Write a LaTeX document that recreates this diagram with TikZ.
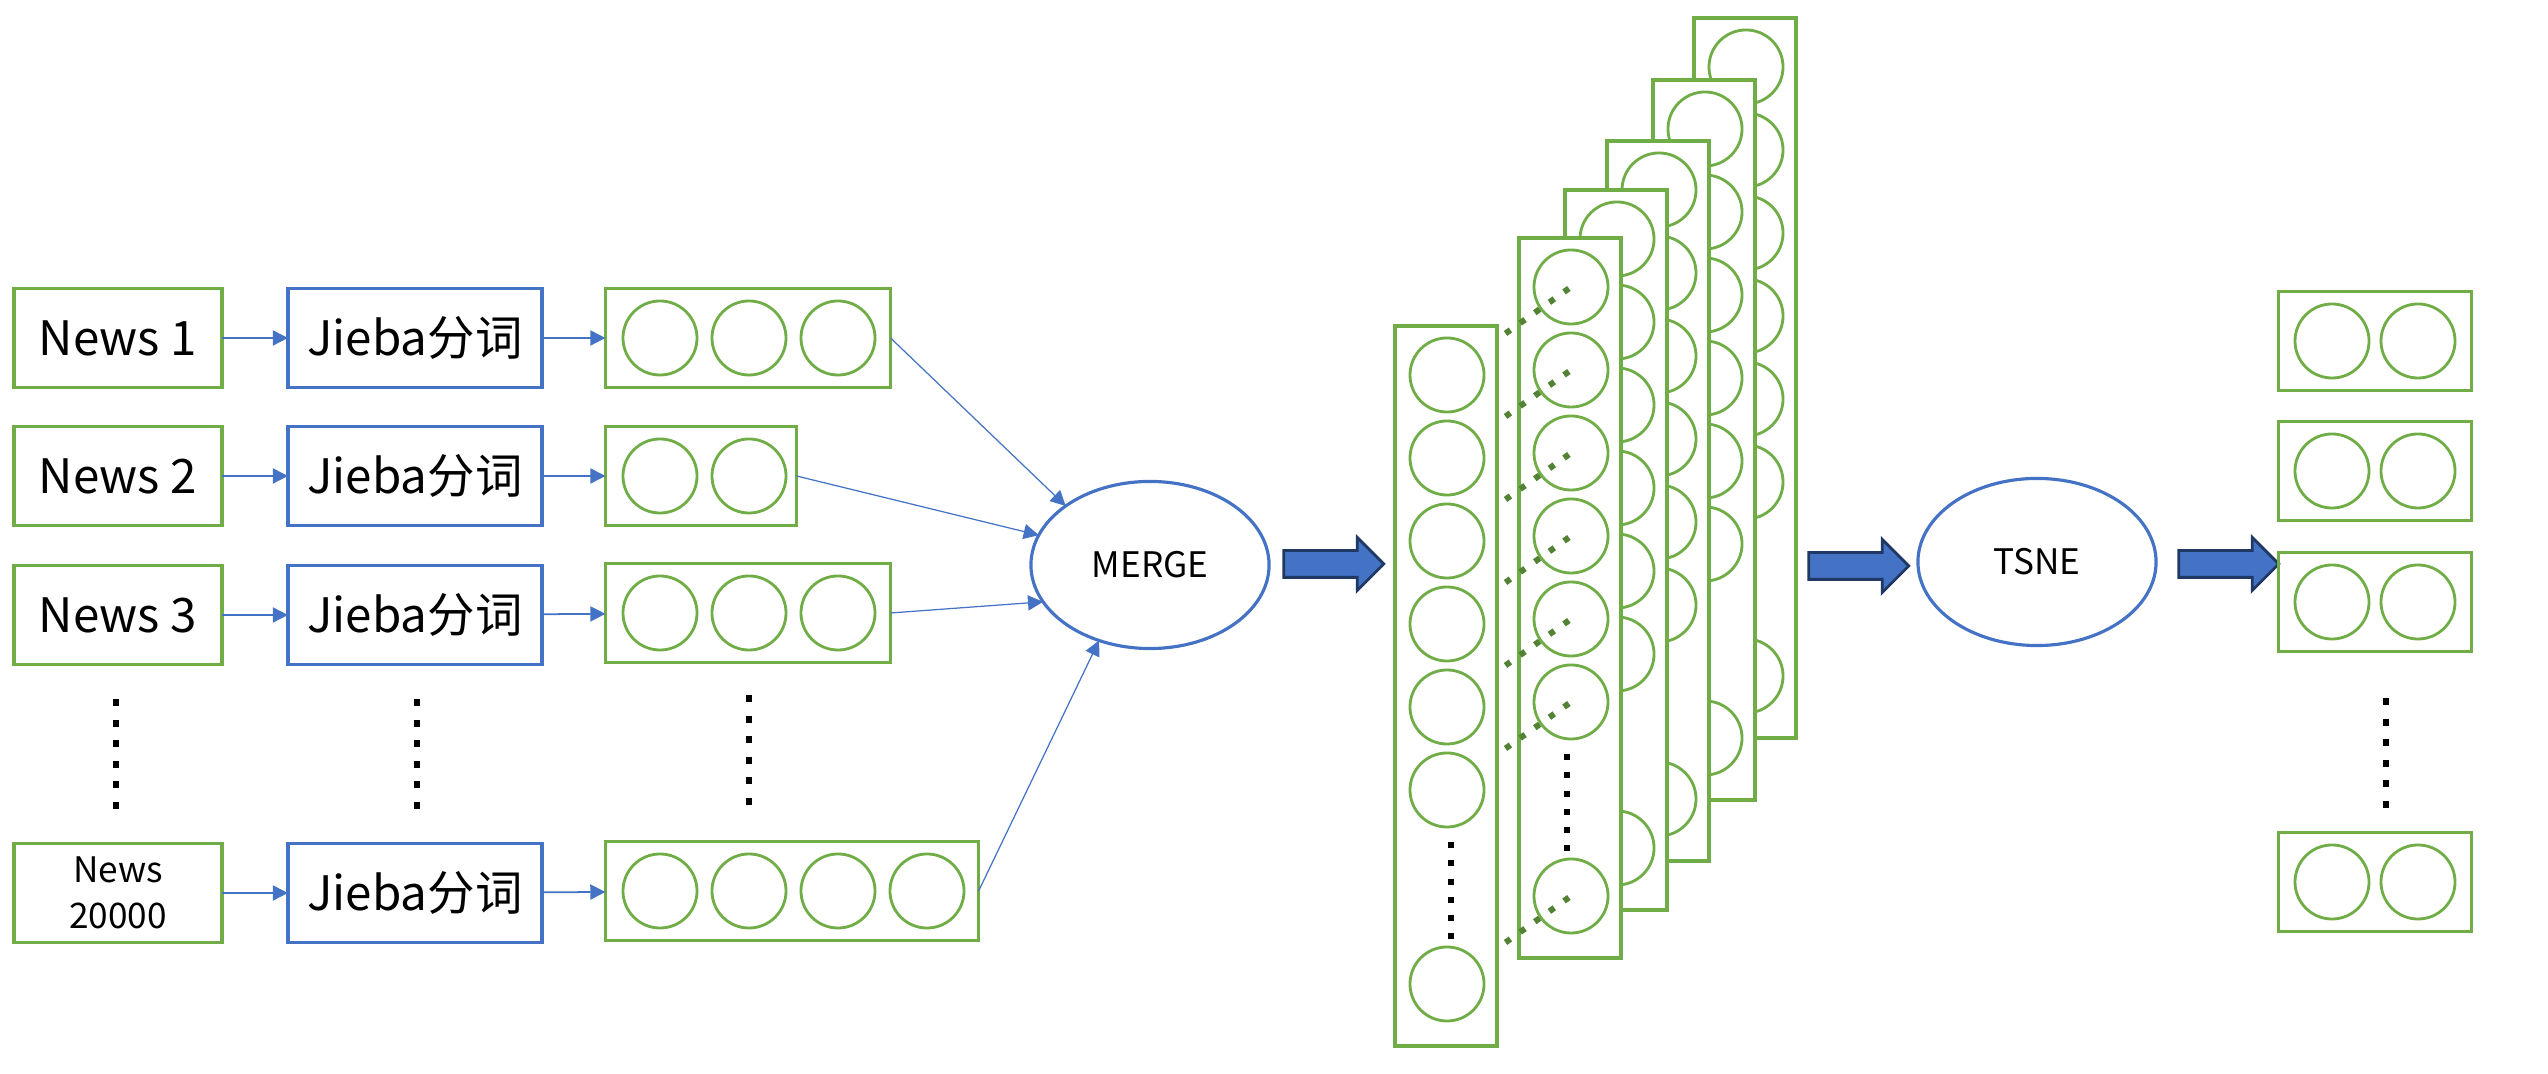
\documentclass[tikz,border=0pt]{standalone}
\usepackage{fontspec}
\setmainfont{Noto Sans CJK SC}
\usetikzlibrary{arrows.meta,shapes.geometric,shapes.arrows}
\definecolor{grn}{HTML}{70AD47}
\definecolor{dgrn}{HTML}{548235}
\definecolor{blu}{HTML}{4472C4}
\definecolor{edge}{HTML}{1F3864}
\tikzset{every node/.style={inner sep=0pt, outer sep=0pt},
  news/.style={draw=grn, line width=1pt, minimum width=2.08cm, minimum height=0.99cm, font=\fontsize{13.5}{16}\selectfont},
  seg/.style={draw=blu, line width=1.1pt, minimum width=2.54cm, minimum height=0.99cm, font=\fontsize{13.5}{16}\selectfont},
  vec/.style={draw=grn, line width=1pt, minimum height=0.99cm},
  unit/.style={circle, draw=grn, line width=0.8pt, minimum size=0.74cm},
  vcol/.style={draw=grn, line width=1pt, fill=white, minimum width=1.02cm, minimum height=7.2cm},
  proc/.style={ellipse, draw=blu, line width=0.9pt, minimum width=2.38cm, minimum height=1.67cm, font=\fontsize{10}{12}\selectfont},
  link/.style={blu, line width=0.5pt, -{Triangle[length=4.3pt, width=4.3pt]}},
  feed/.style={blu, line width=0.35pt, -{Triangle[length=4.3pt, width=4.3pt]}},
  fat/.style={single arrow, draw=edge, fill=blu, line width=0.8pt, inner sep=0.12cm, minimum height=1cm, single arrow head extend=0.13cm},
  vdots/.style={line width=1.7pt, dash pattern=on 2pt off 3.85pt},
  cdots/.style={line width=1.7pt, dash pattern=on 1.7pt off 3.5pt},
  depth/.style={dgrn, line width=1.7pt, dash pattern=on 1.7pt off 3.4pt}}

\begin{document}
\begin{tikzpicture}[x=0.01cm, y=-0.01cm]
  \useasboundingbox (0,0) rectangle (2548,1074);
  \node[news] (n1) at (118,338) {News 1};
  \node[news] (n2) at (118,476) {News 2};
  \node[news] (n3) at (118,615) {News 3};
  \node[news, align=center, font=\fontsize{10}{13}\selectfont] (n4) at (118,893) {News\\20000};
  \node[seg]  (j1) at (415,338) {Jieba分词};
  \node[seg]  (j2) at (415,476) {Jieba分词};
  \node[seg]  (j3) at (415,615) {Jieba分词};
  \node[seg]  (j4) at (415,893) {Jieba分词};
  \node[vec, minimum width=2.85cm] (v1) at (748,338) {};
  \node[vec, minimum width=1.91cm] (v2) at (701,476) {};
  \node[vec, minimum width=2.85cm] (v3) at (748,613) {};
  \node[vec, minimum width=3.73cm] (v4) at (792,891) {};
  \node[unit] (v1a) at (660,338) {};
  \node[unit] (v1b) at (749,338) {};
  \node[unit] (v1c) at (838,338) {};
  \node[unit] (v2a) at (660,476) {};
  \node[unit] (v2b) at (749,476) {};
  \node[unit] (v3a) at (660,613) {};
  \node[unit] (v3b) at (749,613) {};
  \node[unit] (v3c) at (838,613) {};
  \node[unit] (v4a) at (660,891) {};
  \node[unit] (v4b) at (749,891) {};
  \node[unit] (v4c) at (838,891) {};
  \node[unit] (v4d) at (927,891) {};
  \draw[vdots] (116,699) -- (116,809);
  \draw[vdots] (417,699) -- (417,809);
  \draw[vdots] (749,695) -- (749,805);
  \draw[link] (n1) -- (j1);
  \draw[link] (n2) -- (j2);
  \draw[link] (n3) -- (j3);
  \draw[link] (n4) -- (j4);
  \draw[link] (j1) -- (v1);
  \draw[link] (j2) -- (v2);
  \draw[link] (j3) -- (v3);
  \draw[link] (j4) -- (v4);
  \node[proc] (m) at (1150,565) {MERGE};
  \draw[feed] (v1.east) -- (m.145);
  \draw[feed] (v2.east) -- (m.165);
  \draw[feed] (v3.east) -- (m.199);
  \draw[feed] (v4.east) -- (m.236);
  \node[fat] (f1) at (1327,564) {};
  \foreach \k/\l/\t in {6/1694/18,5/1653/80,4/1607/141,3/1565/190,2/1519/238}{
    \node[vcol] (c\k) at (\l+51,\t+360) {};
    \foreach \i in {0,...,5}
      \node[unit] (c\k-\i) at (\l+52,\t+49+83*\i) {};
    \node[unit] (c\k-6) at (\l+52,\t+658) {};
  }
  \draw[cdots] (1567,754) -- (1567,852);
  \foreach \i in {0,...,5}
    \coordinate (p\i) at (1447,375+83*\i);
  \coordinate (p6) at (1447,984);
  \foreach \i in {0,...,6}
    \draw[depth] (p\i) -- (c2-\i.center);
  \node[vcol] (c1) at (1446,686) {};
  \foreach \i in {0,...,6}
    \node[unit] (c1-\i) at (p\i) {};
  \draw[cdots] (1451,842) -- (1451,940);
  \node[fat] (f2) at (1852,566) {};
  \node[proc] (t) at (2037,562) {TSNE};
  \node[fat] (f3) at (2222,564) {};
  \node[vec, minimum width=1.93cm] (o1) at (2375,341) {};
  \node[vec, minimum width=1.93cm] (o2) at (2375,471) {};
  \node[vec, minimum width=1.93cm] (o3) at (2375,602) {};
  \node[vec, minimum width=1.93cm] (o4) at (2375,882) {};
  \node[unit] (o1a) at (2332,341) {};
  \node[unit] (o1b) at (2418,341) {};
  \node[unit] (o2a) at (2332,471) {};
  \node[unit] (o2b) at (2418,471) {};
  \node[unit] (o3a) at (2332,602) {};
  \node[unit] (o3b) at (2418,602) {};
  \node[unit] (o4a) at (2332,882) {};
  \node[unit] (o4b) at (2418,882) {};
  \draw[vdots] (2386,698) -- (2386,808);
\end{tikzpicture}
\end{document}
